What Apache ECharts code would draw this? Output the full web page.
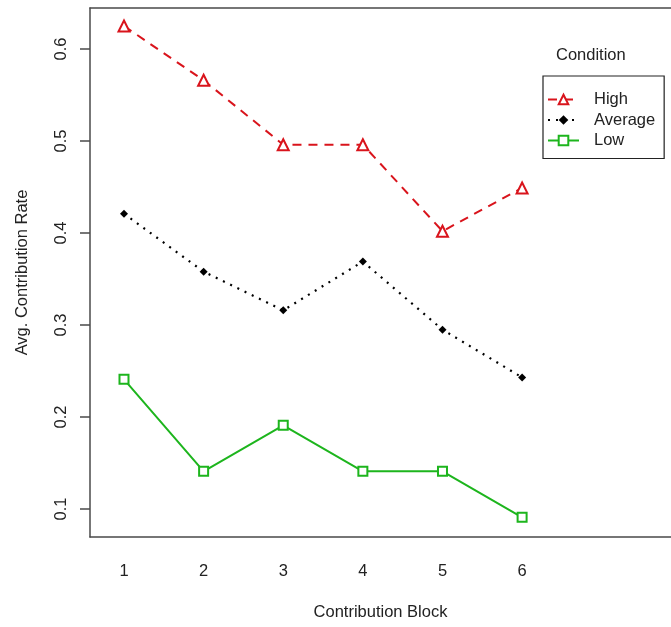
<!DOCTYPE html>
<html>
<head>
<meta charset="utf-8">
<script src="https://cdn.jsdelivr.net/npm/echarts@6/dist/echarts.min.js"></script>
<style>
  html, body { margin: 0; padding: 0; background: #ffffff; }
  #chart { width: 671px; height: 627px; }
</style>
</head>
<body>
<div id="chart"></div>
<script>
// Contribution blocks on the x axis
const blocks = [1, 2, 3, 4, 5, 6];
// Mean contribution rate per block for each condition
const high = [0.625, 0.566, 0.496, 0.496, 0.402, 0.449];
const average = [0.421, 0.358, 0.316, 0.369, 0.295, 0.243];
const low = [0.241, 0.141, 0.191, 0.141, 0.141, 0.091];
// Tick values
const yTicks = [0.1, 0.2, 0.3, 0.4, 0.5, 0.6];
const xTicks = [1, 2, 3, 4, 5, 6];

const FONT = 'Liberation Sans';
const FS = 16.5;
const AXIS_COLOR = '#4a4a4a';
const X_MIN = 0.573, X_MAX = 7.87;

const pairs = vals => blocks.map((b, i) => [b, vals[i]]);

const chart = echarts.init(document.getElementById('chart'), null, { renderer: 'canvas' });

chart.setOption({
  backgroundColor: '#ffffff',
  animation: false,
  grid: { left: 90, top: 8, bottom: 90, right: 0, show: false },
  xAxis: [
    {
      type: 'value',
      min: X_MIN, max: X_MAX,
      name: 'Contribution Block',
      nameLocation: 'middle',
      nameGap: 67,
      nameTextStyle: { fontFamily: FONT, fontSize: FS, color: '#222' },
      axisLine: { show: true, onZero: false, lineStyle: { color: AXIS_COLOR, width: 1.5 } },
      axisTick: { show: false },
      splitLine: { show: false },
      axisLabel: {
        customValues: xTicks,
        margin: 26,
        fontFamily: FONT, fontSize: FS, color: '#222'
      }
    },
    {
      // top frame line of the plot region
      type: 'value', position: 'top',
      min: X_MIN, max: X_MAX,
      axisLine: { show: true, onZero: false, lineStyle: { color: AXIS_COLOR, width: 1.5 } },
      axisTick: { show: false },
      axisLabel: { show: false },
      splitLine: { show: false }
    }
  ],
  yAxis: {
    type: 'value',
    min: 0.0696, max: 0.6446,
    name: 'Avg. Contribution Rate',
    nameLocation: 'middle',
    nameRotate: 90,
    nameGap: 59,
    nameTextStyle: { fontFamily: FONT, fontSize: FS, color: '#222' },
    axisLine: { show: true, onZero: false, lineStyle: { color: AXIS_COLOR, width: 1.5 } },
    axisTick: { show: true, customValues: yTicks, length: 10, lineStyle: { color: AXIS_COLOR, width: 1.5 } },
    splitLine: { show: false },
    axisLabel: {
      customValues: yTicks,
      rotate: 90,
      margin: 20,
      fontFamily: FONT, fontSize: FS, color: '#222',
      formatter: v => v.toFixed(1)
    }
  },
  legend: {
    orient: 'vertical',
    left: 543, top: 76,
    padding: [13.5, 9, 8, 4],
    borderColor: '#222', borderWidth: 1.2,
    itemWidth: 31, itemHeight: 12, itemGap: 0.5,
    textStyle: { fontFamily: FONT, fontSize: FS, color: '#222', lineHeight: 20, padding: [0, 0, 0, 10] },
    data: ['High', 'Average', 'Low']
  },
  graphic: [{
    type: 'text',
    left: 556, top: 47,
    style: { text: 'Condition', fontFamily: FONT, fontSize: FS, fill: '#222' }
  }],
  series: [
    {
      name: 'High', type: 'line', data: pairs(high),
      symbol: 'triangle', symbolSize: 11,
      lineStyle: { color: '#d9141c', width: 2, type: [9, 7] },
      itemStyle: { color: '#ffffff', borderColor: '#d9141c', borderWidth: 2 }
    },
    {
      name: 'Average', type: 'line', data: pairs(average),
      symbol: 'diamond', symbolSize: 8,
      lineStyle: { color: '#000000', width: 2.2, type: [2, 6] },
      itemStyle: { color: '#000000', borderColor: '#000000', borderWidth: 0 }
    },
    {
      name: 'Low', type: 'line', data: pairs(low),
      symbol: 'rect', symbolSize: 9,
      lineStyle: { color: '#1db51d', width: 2 },
      itemStyle: { color: '#ffffff', borderColor: '#1db51d', borderWidth: 2 }
    }
  ]
});
</script>
</body>
</html>
